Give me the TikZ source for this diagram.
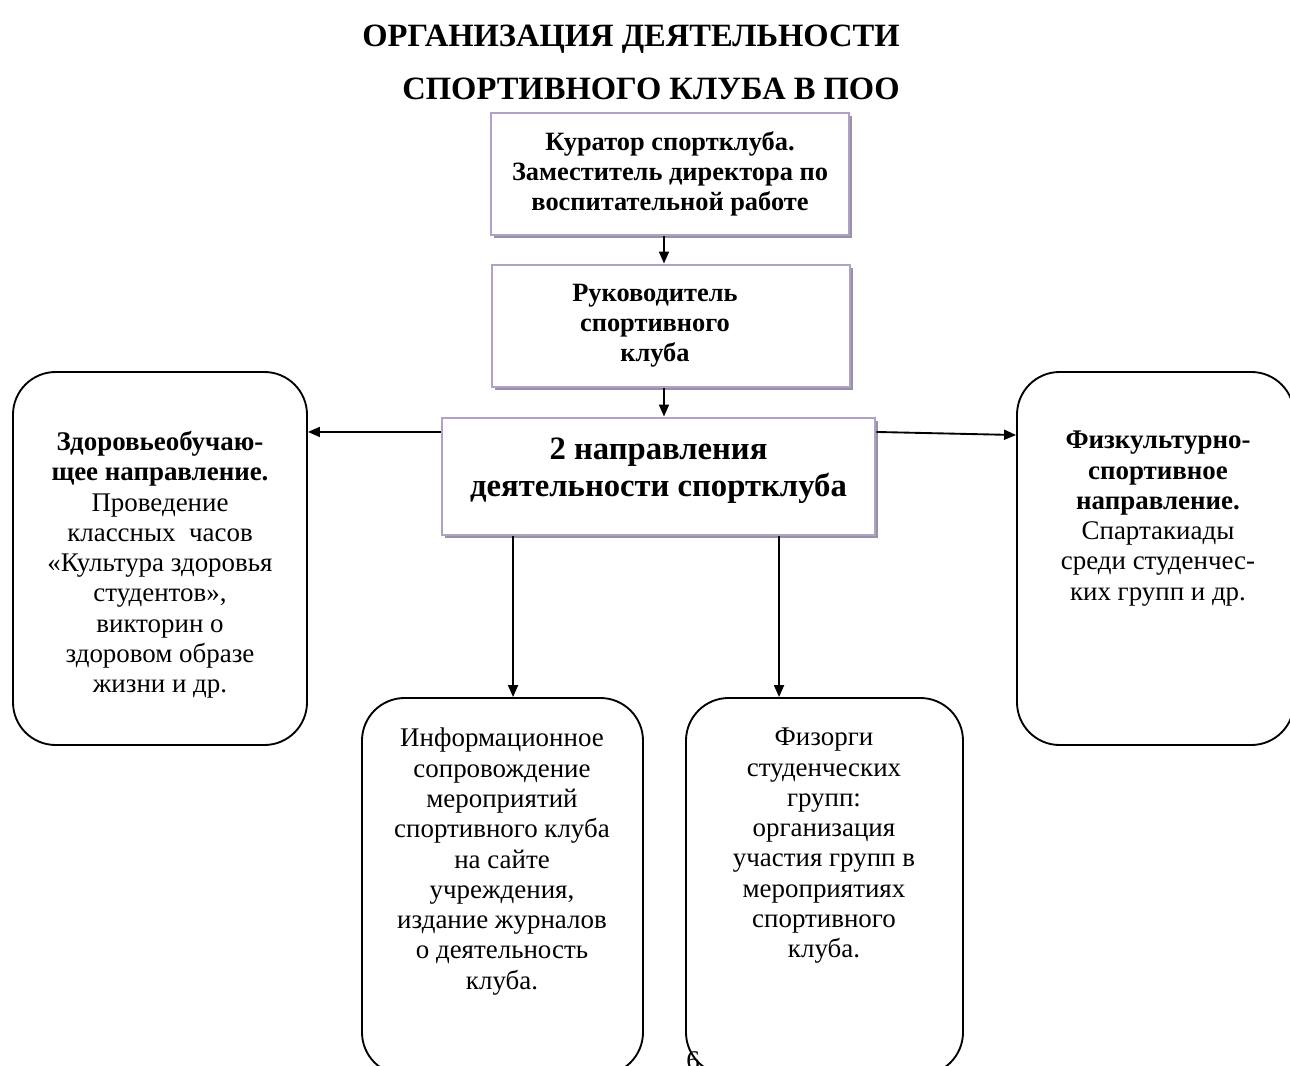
\documentclass[tikz,border=0pt]{standalone}
\usepackage{fontspec}
\setmainfont{Liberation Serif}
\usepackage{tikz}
\usetikzlibrary{positioning,shadows,arrows.meta}

\definecolor{lavender}{RGB}{178,161,199}
\definecolor{shadowgray}{RGB}{150,146,165}
\newcommand{\bodysize}{\fontsize{20.2}{22.7}\selectfont}
\newcommand{\boxsize}{\fontsize{19.8}{22.5}\selectfont}
\newcommand{\bigsize}{\fontsize{24.5}{27.5}\selectfont}
\newcommand{\titlesize}{\fontsize{24.4}{29}\selectfont}

\tikzset{
	headbox/.style={draw=lavender, line width=2.2pt, fill=white, align=center, inner sep=0pt,
		drop shadow={shadow xshift=2.2pt, shadow yshift=-2.2pt, fill=shadowgray, opacity=1}},
	roundbox/.style={draw, line width=1.4pt, rounded corners=32pt},
	boxtext/.style={align=center, inner sep=0pt, font=\bodysize},
	arrow/.style={-{Triangle[length=9pt,width=7.5pt]}, line width=1.4pt}
}

\begin{document}
\begin{tikzpicture}[x=0.75pt, y=-0.75pt]
				\useasboundingbox (0,0) rectangle (1290,1066);
				\node[anchor=base, font=\titlesize\bfseries] (title1) at (631,47) {ОРГАНИЗАЦИЯ ДЕЯТЕЛЬНОСТИ};
				\node[anchor=base, font=\titlesize\bfseries] (title2) at (651,100) {СПОРТИВНОГО КЛУБА В ПОО};
				\node[headbox, minimum width=268.5pt, minimum height=91.5pt, font=\boxsize\bfseries] (cur) at (670,174)
					{Куратор спортклуба.\\Заместитель директора по\\воспитательной работе};
				\node[headbox, minimum width=268.5pt, minimum height=91.5pt] (head) at (671,326) {};
				\node[align=center, inner sep=0pt, font=\boxsize\bfseries] (headtext) at (655,326)
					{Руководитель\\спортивного\\клуба};
				\node[headbox, minimum width=324.75pt, minimum height=87.75pt] (dir) at (658.5,476.5) {};
				\node[align=center, inner sep=0pt, font=\bigsize\bfseries] (dirtext) at (658.5,471)
					{2 направления\\деятельности спортклуба};
				\node[roundbox, minimum width=220.5pt, minimum height=279.75pt] (health) at (160,558.5) {};
				\node[boxtext, anchor=north] (healthtext) at (160,431)
					{\textbf{Здоровьеобучаю-}\\\textbf{щее направление.}\\Проведение\\классных\ \ часов\\«Культура здоровья\\студентов»,\\викторин о\\здоровом образе\\жизни и др.};
				\node[roundbox, minimum width=207.75pt, minimum height=279.75pt] (sport) at (1155.5,558.5) {};
				\node[boxtext, anchor=north] (sporttext) at (1158,431)
					{\textbf{Физкультурно-}\\\textbf{спортивное}\\\textbf{направление.}\\Спартакиады\\среди студенчес-\\ких групп и др.};
				\node[roundbox, minimum width=210.75pt, minimum height=282.75pt] (info) at (502.5,886.5) {};
				\node[boxtext, anchor=north] (infotext) at (502,728)
					{Информационное\\сопровождение\\мероприятий\\спортивного клуба\\на сайте\\учреждения,\\издание журналов\\о деятельность\\клуба.};
				\node[roundbox, minimum width=207.75pt, minimum height=282.75pt] (fizorg) at (824.5,886.5) {};
				\node[boxtext, anchor=north] (fizorgtext) at (824,728)
					{Физорги\\студенческих\\групп:\\организация\\участия групп в\\мероприятиях\\спортивного\\клуба.};
				\node[boxtext, anchor=north] (pagenum) at (693,1051) {6};
				\draw[arrow] ([xshift=-4.5pt]cur.south) -- ([xshift=-4.5pt]cur.south |- head.north);
				\draw[arrow] ([xshift=-5.25pt]head.south) -- ([xshift=-5.25pt]head.south |- dir.north);
				\draw[arrow] ([yshift=33.4pt]dir.west) -- ([yshift=33.4pt]dir.west -| health.east);
				\draw[arrow] ([yshift=33.4pt]dir.east) -- ([yshift=92.6pt]sport.west);
				\draw[arrow] ([xshift=-109.1pt]dir.south) -- ([xshift=-109.1pt]dir.south |- info.north);
				\draw[arrow] ([xshift=90.4pt]dir.south) -- ([xshift=90.4pt]dir.south |- fizorg.north);
			\end{tikzpicture}
\end{document}
